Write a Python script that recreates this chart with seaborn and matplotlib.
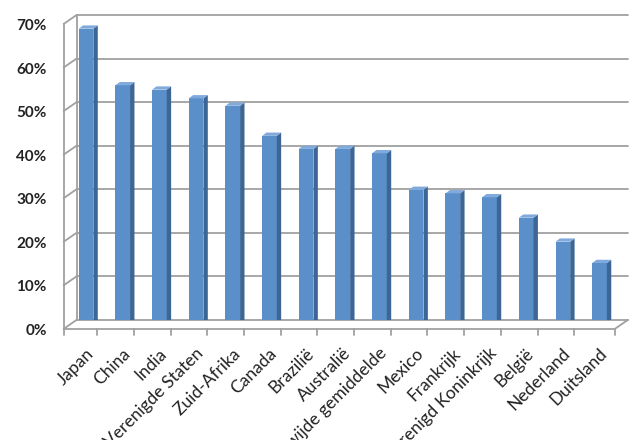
import seaborn as sns
import matplotlib.pyplot as plt
import matplotlib.transforms as mtransforms
from matplotlib.patches import Polygon
import pandas as pd

# data
landen = ['Japan', 'China', 'India', 'Verenigde Staten', 'Zuid-Afrika', 'Canada',
          'Brazilië', 'Australië', 'Wereldwijde gemiddelde', 'Mexico', 'Frankrijk',
          'Verenigd Koninkrijk', 'België', 'Nederland', 'Duitsland']
waarden = [68, 55, 54, 52, 50.3, 43.4, 40.4, 40.4, 39.4, 31, 30.2, 29.3, 24.6, 19.1, 14.2]
ticks = [0, 10, 20, 30, 40, 50, 60, 70]

df = pd.DataFrame({'land': landen, 'waarde': waarden})

sns.set_style('white')
plt.rcParams['font.family'] = ['Lato', 'DejaVu Sans']

fig = plt.figure(figsize=(6.44, 4.40), dpi=100)
ax = fig.add_axes([0.119, 0.273, 0.856, 0.693])

front = '#5B8FC9'
side = '#3C6695'
top = '#7FAADB'
grid = '#A0A0A0'

sns.barplot(data=df, x='land', y='waarde', color=front, width=0.4,
            saturation=1, edgecolor='none', ax=ax)

xmin, xmax = -0.42, len(landen) - 0.39
ax.set_xlim(xmin, xmax)
ax.set_ylim(0, 70)

# depth offsets (px): front plane sits left/down of the back wall
full = mtransforms.ScaledTranslation(-13 / 100, -9 / 100, fig.dpi_scale_trans)
half = mtransforms.ScaledTranslation(-6 / 100, -5 / 100, fig.dpi_scale_trans)
front_t = ax.transData + full
bar_t = ax.transData + half

# bars moved to mid depth, plus side and top faces
dx, dy = 0.12, 0.75
for p in ax.patches:
    p.set_transform(bar_t)
    x0 = p.get_x()
    x1 = x0 + p.get_width()
    h = p.get_height()
    ax.add_patch(Polygon([(x1, 0), (x1 + dx, dy), (x1 + dx, h + dy), (x1, h)],
                         closed=True, facecolor=side, edgecolor='none', transform=bar_t, zorder=3))
    ax.add_patch(Polygon([(x0, h), (x0 + dx, h + dy), (x1 + dx, h + dy), (x1, h)],
                         closed=True, facecolor=top, edgecolor='none', transform=bar_t, zorder=3))

# back wall grid and 3d frame
for v in ticks:
    ax.plot([xmin, xmax], [v, v], color=grid, lw=1.3, zorder=0, clip_on=False)
for v in ticks:
    p0 = ax.transData.transform((xmin, v))
    p1 = front_t.transform((xmin, v))
    ax.plot([p0[0], p1[0]], [p0[1], p1[1]], color=grid, lw=1.3,
            transform=None, clip_on=False)
    ax.text(xmin, v, f'{v}%', transform=front_t + mtransforms.ScaledTranslation(-0.17, -0.02, fig.dpi_scale_trans),
            ha='right', va='center', fontsize=11, fontweight='bold', color='#222222')
ax.plot([xmin, xmin], [0, 70], color=grid, lw=1.3, transform=front_t, clip_on=False)
ax.plot([xmin, xmax], [0, 0], color=grid, lw=1.3, transform=front_t, clip_on=False, zorder=1)
ax.plot([xmin, xmin], [0, 70], color=grid, lw=1.3, clip_on=False, zorder=0)
pr0 = ax.transData.transform((xmax, 0))
pr1 = front_t.transform((xmax, 0))
ax.plot([pr0[0], pr1[0]], [pr0[1], pr1[1]], color=grid, lw=1.3, transform=None, clip_on=False)

# category tick marks on front floor edge
tick_down = mtransforms.ScaledTranslation(0, -6 / 100, fig.dpi_scale_trans)
grens = [xmin] + [i + 0.5 for i in range(len(landen) - 1)] + [xmax]
for xb in grens:
    a = front_t.transform((xb, 0))
    b = (front_t + tick_down).transform((xb, 0))
    ax.plot([a[0], b[0]], [a[1], b[1]], color=grid, lw=1.3, transform=None, clip_on=False)

# rotated category labels
lab_t = bar_t + mtransforms.ScaledTranslation(0.05, -0.26, fig.dpi_scale_trans)
for i, naam in enumerate(landen):
    ax.text(i, 0, naam, transform=lab_t, rotation=45, rotation_mode='anchor',
            ha='right', va='center', fontsize=12.5, color='#222222')

ax.set_xticks([])
ax.set_yticks([])
ax.set_xlabel('')
ax.set_ylabel('')
sns.despine(ax=ax, left=True, bottom=True)

fig.savefig('out.png', dpi=100)
